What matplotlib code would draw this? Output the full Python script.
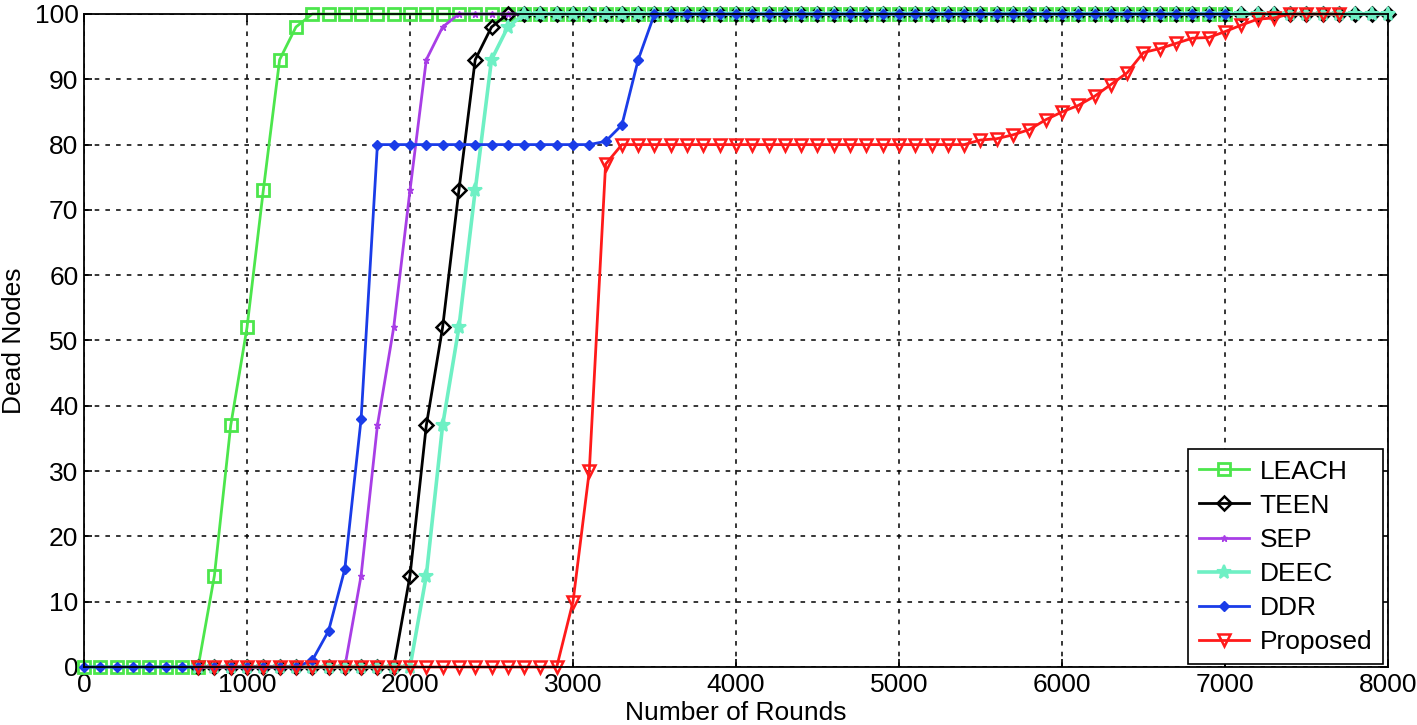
import matplotlib
matplotlib.use("Agg")
import matplotlib.pyplot as plt

plt.rcParams['font.family'] = ['Liberation Sans', 'DejaVu Sans']

# Round values (x axis), every 100 rounds
rounds = [0, 100, 200, 300, 400, 500, 600, 700, 800, 900,
          1000, 1100, 1200, 1300, 1400, 1500, 1600, 1700, 1800, 1900,
          2000, 2100, 2200, 2300, 2400, 2500, 2600, 2700, 2800, 2900,
          3000, 3100, 3200, 3300, 3400, 3500, 3600, 3700, 3800, 3900,
          4000, 4100, 4200, 4300, 4400, 4500, 4600, 4700, 4800, 4900,
          5000, 5100, 5200, 5300, 5400, 5500, 5600, 5700, 5800, 5900,
          6000, 6100, 6200, 6300, 6400, 6500, 6600, 6700, 6800, 6900,
          7000, 7100, 7200, 7300, 7400, 7500, 7600, 7700, 7800, 7900,
          8000]

# LEACH: rounds 0..7000
leach = [0, 0, 0, 0, 0, 0, 0, 0, 14, 37, 52, 73, 93, 98,
         100, 100, 100, 100, 100, 100, 100, 100, 100, 100,
         100, 100, 100, 100, 100, 100, 100, 100, 100, 100,
         100, 100, 100, 100, 100, 100, 100, 100, 100, 100,
         100, 100, 100, 100, 100, 100, 100, 100, 100, 100,
         100, 100, 100, 100, 100, 100, 100, 100, 100, 100,
         100, 100, 100, 100, 100, 100, 100]

# TEEN: rounds 700..8000
teen = [0, 0, 0, 0, 0, 0, 0, 0, 0, 0, 0, 0, 0,
        14, 37, 52, 73, 93, 98,
        100, 100, 100, 100, 100, 100, 100, 100, 100, 100,
        100, 100, 100, 100, 100, 100, 100, 100, 100, 100,
        100, 100, 100, 100, 100, 100, 100, 100, 100, 100,
        100, 100, 100, 100, 100, 100, 100, 100, 100, 100,
        100, 100, 100, 100, 100, 100, 100, 100, 100, 100,
        100, 100, 100, 100, 100]

# SEP: rounds 700..7700
sep = [0, 0, 0, 0, 0, 0, 0, 0, 0, 0,
       14, 37, 52, 73, 93, 98,
       100, 100, 100, 100, 100, 100, 100, 100, 100, 100,
       100, 100, 100, 100, 100, 100, 100, 100, 100, 100,
       100, 100, 100, 100, 100, 100, 100, 100, 100, 100,
       100, 100, 100, 100, 100, 100, 100, 100, 100, 100,
       100, 100, 100, 100, 100, 100, 100, 100, 100, 100,
       100, 100, 100, 100, 100]

# DEEC: rounds 700..8000
deec = [0, 0, 0, 0, 0, 0, 0, 0, 0, 0, 0, 0, 0, 0,
        14, 37, 52, 73, 93, 98,
        100, 100, 100, 100, 100, 100, 100, 100, 100, 100,
        100, 100, 100, 100, 100, 100, 100, 100, 100, 100,
        100, 100, 100, 100, 100, 100, 100, 100, 100, 100,
        100, 100, 100, 100, 100, 100, 100, 100, 100, 100,
        100, 100, 100, 100, 100, 100, 100, 100, 100, 100,
        100, 100, 100, 100]

# DDR: rounds 0..7000
ddr = [0, 0, 0, 0, 0, 0, 0, 0, 0, 0, 0, 0, 0, 0,
       1, 5.5, 15, 38,
       80, 80, 80, 80, 80, 80, 80, 80, 80, 80, 80, 80, 80, 80,
       80.5, 83, 93,
       100, 100, 100, 100, 100, 100, 100, 100, 100, 100,
       100, 100, 100, 100, 100, 100, 100, 100, 100, 100,
       100, 100, 100, 100, 100, 100, 100, 100, 100, 100,
       100, 100, 100, 100, 100, 100]

# Proposed: rounds 700..7700
proposed = [0, 0, 0, 0, 0, 0, 0, 0, 0, 0, 0, 0, 0, 0, 0, 0, 0, 0, 0, 0, 0, 0, 0,
            10, 30, 77,
            80, 80, 80, 80, 80, 80, 80, 80, 80, 80, 80,
            80, 80, 80, 80, 80, 80, 80, 80, 80, 80, 80,
            80.7, 80.9, 81.5, 82.3, 83.8, 85, 86, 87.4, 89.2, 91,
            94.1, 94.7, 95.5, 96.3, 96.4, 97.3, 98.3, 99.2, 99.4,
            100, 100, 100, 100]

labels = ['LEACH', 'TEEN', 'SEP', 'DEEC', 'DDR', 'Proposed']
xticks = [0, 1000, 2000, 3000, 4000, 5000, 6000, 7000, 8000]
yticks = [0, 10, 20, 30, 40, 50, 60, 70, 80, 90, 100]


def xs(start, values):
    i = rounds.index(start)
    return rounds[i:i + len(values)]


fig = plt.figure(figsize=(14.17, 7.25), dpi=100)
ax = fig.add_axes([0.0593, 0.08, 0.9202, 0.9007])

lw = 2.0
common = dict(clip_on=False)
ax.plot(xs(0, leach), leach, color='#4ce64c', lw=lw, marker='s', ms=9,
        mfc='none', mec='#4ce64c', mew=2.0, label=labels[0], **common)
ax.plot(xs(700, teen), teen, color='black', lw=lw, marker='D', ms=7,
        mfc='none', mec='black', mew=1.8, label=labels[1], **common)
ax.plot(xs(700, sep), sep, color='#a83ee6', lw=lw, marker='*', ms=5,
        mfc='#a83ee6', mec='#a83ee6', mew=1.0, label=labels[2], **common)
ax.plot(xs(700, deec), deec, color='#6ef0c4', lw=lw + 0.6, marker='*', ms=10,
        mfc='#6ef0c4', mec='#6ef0c4', mew=1.5, label=labels[3], **common)
ax.plot(xs(0, ddr), ddr, color='#1a3ce8', lw=lw, marker='D', ms=5.5,
        mfc='#1a3ce8', mec='#1a3ce8', mew=1.0, label=labels[4], **common)
ax.plot(xs(700, proposed), proposed, color='#ff1a1a', lw=lw, marker='v', ms=9,
        mfc='none', mec='#ff1a1a', mew=1.8, label=labels[5], **common)

ax.set_xlim(0, 8000)
ax.set_ylim(0, 100)
ax.set_xticks(xticks)
ax.set_yticks(yticks)
ax.tick_params(direction='in', length=6, width=1.2, labelsize=19,
               top=True, right=True, pad=4)
ax.grid(True, color='black', linestyle=(0, (3, 4)), linewidth=1.1)
for s in ax.spines.values():
    s.set_linewidth(1.3)
    s.set_color('black')

ax.set_xlabel('Number of Rounds', fontsize=19, labelpad=3)
ax.set_ylabel('Dead Nodes', fontsize=19, labelpad=6)

leg = ax.legend(loc='lower right', bbox_to_anchor=(0.996, 0.004), fontsize=19,
                handlelength=1.9, labelspacing=0.38, borderpad=0.4,
                handletextpad=0.4, fancybox=False, framealpha=1,
                edgecolor='black', borderaxespad=0)
leg.get_frame().set_linewidth(1.2)
leg.set_zorder(5)

fig.savefig('out.png', dpi=100)
